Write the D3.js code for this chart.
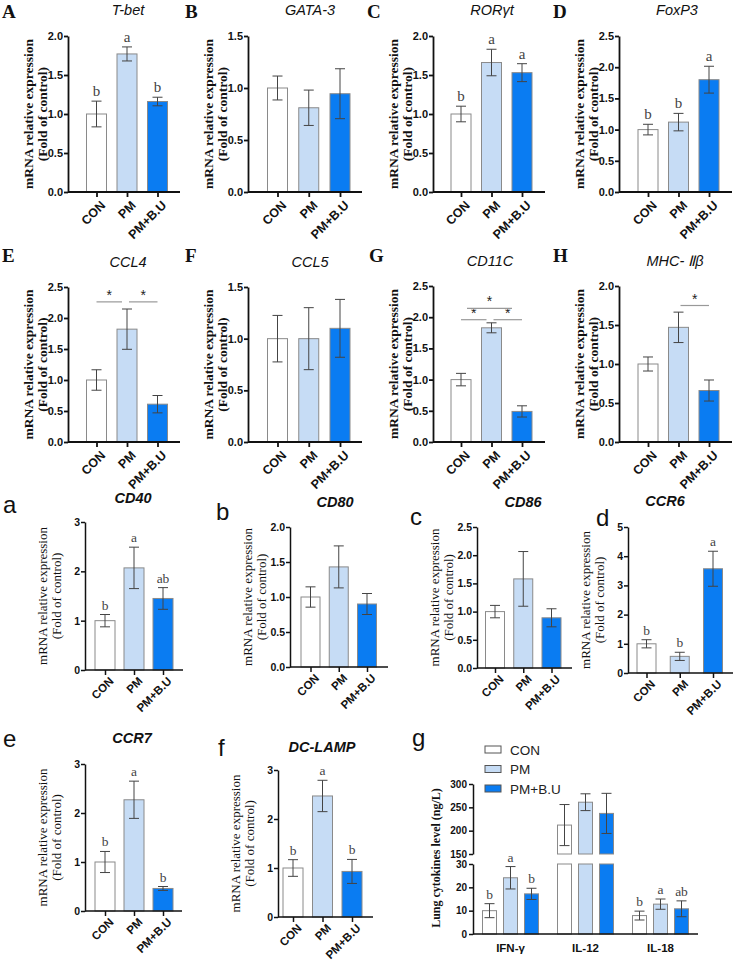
<!DOCTYPE html>
<html lang="en">
<head>
  <meta charset="UTF-8" />
  <title>mRNA expression panels</title>
  <script src="https://cdn.jsdelivr.net/npm/d3@7"></script>
  <style>
    body { margin: 0; background: #fff; }
    .sans { font-family: "Liberation Sans", Arial, sans-serif; }
    .serif { font-family: "Liberation Serif", "Times New Roman", serif; }
  </style>
</head>
<body>
<script>
  var groups = ["CON", "PM", "PM+B.U"];
  var fills = ["#ffffff", "#c6dcf5", "#0a7cf2"];

  // means, error (sem) and letters for each gene
  var tbet = [1.00, 1.77, 1.16], tbetErr = [0.165, 0.09, 0.055], tbetLet = ["b", "a", "b"];
  var gata3 = [1.00, 0.81, 0.945], gata3Err = [0.115, 0.17, 0.24];
  var rorgt = [1.00, 1.66, 1.53], rorgtErr = [0.10, 0.17, 0.115], rorgtLet = ["b", "a", "a"];
  var foxp3 = [1.00, 1.12, 1.80], foxp3Err = [0.085, 0.14, 0.215], foxp3Let = ["b", "b", "a"];
  var ccl4 = [1.00, 1.82, 0.61], ccl4Err = [0.165, 0.325, 0.14];
  var ccl5 = [1.00, 1.00, 1.10], ccl5Err = [0.225, 0.30, 0.28];
  var cd11c = [1.00, 1.83, 0.49], cd11cErr = [0.10, 0.08, 0.09];
  var mhc = [1.00, 1.47, 0.66], mhcErr = [0.09, 0.195, 0.135];
  var cd40 = [1.00, 2.07, 1.45], cd40Err = [0.125, 0.42, 0.22], cd40Let = ["b", "a", "ab"];
  var cd80 = [1.00, 1.43, 0.90], cd80Err = [0.145, 0.30, 0.15];
  var cd86 = [1.00, 1.58, 0.89], cd86Err = [0.11, 0.485, 0.16];
  var ccr6 = [1.00, 0.57, 3.57], ccr6Err = [0.14, 0.14, 0.60], ccr6Let = ["b", "b", "a"];
  var ccr7 = [1.00, 2.27, 0.46], ccr7Err = [0.215, 0.38, 0.04], ccr7Let = ["b", "a", "b"];
  var dclamp = [1.00, 2.47, 0.93], dclampErr = [0.17, 0.32, 0.245], dclampLet = ["b", "a", "b"];

  // significance brackets: [from group, to group, level]
  var ccl4Sig = [[0, 1, 2.26], [1, 2, 2.26]];
  var cd11cSig = [[0, 1, 1.96], [1, 2, 1.96], [0, 2, 2.14]];
  var mhcSig = [[1, 2, 1.75]];

  // cytokines (panel g)
  var cytokines = ["IFN-γ", "IL-12", "IL-18"];
  var conLevel = [10.0, 212, 7.9], conLevelErr = [3.0, 44, 1.9];
  var pmLevel = [24.1, 261, 12.8], pmLevelErr = [4.8, 18, 2.2];
  var pmbuLevel = [17.2, 237, 10.8], pmbuLevelErr = [2.4, 43, 3.4];
  var cytoLetters = [["b", "a", "b"], [], ["b", "a", "ab"]];

  var svg = d3.select("body").append("svg")
    .attr("width", 735)
    .attr("height", 962);

  function panel(c) {
    var big = c.big;
    var g = svg.append("g");
    var y = d3.scaleLinear().domain([0, c.max]).range([c.bottom, c.top]);
    var x = d3.scalePoint().domain(groups).range([c.ax + c.x0, c.ax + c.x1]);
    var bw = c.bw || 20;

    g.selectAll("rect").data(c.mean).enter().append("rect")
      .attr("x", function(d, i) { return x(groups[i]) - bw / 2; })
      .attr("y", function(d) { return y(d); })
      .attr("width", bw)
      .attr("height", function(d) { return y(0) - y(d); })
      .attr("fill", function(d, i) { return fills[i]; })
      .attr("stroke", "#8a8a8a")
      .attr("stroke-width", 1);

    // error bars
    var eb = g.append("g").attr("stroke", "#444").attr("stroke-width", 1);
    c.mean.forEach(function(m, i) {
      var cx = x(groups[i]), e = c.err[i];
      eb.append("line").attr("x1", cx).attr("x2", cx).attr("y1", y(m + e)).attr("y2", y(m - e));
      eb.append("line").attr("x1", cx - 5).attr("x2", cx + 5).attr("y1", y(m + e)).attr("y2", y(m + e));
      eb.append("line").attr("x1", cx - 5).attr("x2", cx + 5).attr("y1", y(m - e)).attr("y2", y(m - e));
    });

    if (c.letters) {
      g.selectAll(".let").data(c.letters).enter().append("text")
        .attr("class", "serif")
        .attr("x", function(d, i) { return x(groups[i]); })
        .attr("y", function(d, i) { return y(c.mean[i] + c.err[i]) - 5; })
        .attr("text-anchor", "middle")
        .attr("font-size", big ? "15px" : "13.5px")
        .attr("fill", "#444")
        .text(function(d) { return d; });
    }

    if (c.sig) {
      c.sig.forEach(function(s) {
        var xa = x(groups[s[0]]), xb = x(groups[s[1]]);
        if (s[0] == 0 && s[1] == 1) { xb -= 5; }
        if (s[0] == 1 && s[1] == 2) { xa += 2; }
        if (s[1] - s[0] == 2) { xa += 6; xb -= 10; }
        g.append("line").attr("x1", xa).attr("x2", xb)
          .attr("y1", y(s[2])).attr("y2", y(s[2]))
          .attr("stroke", "#999").attr("stroke-width", 1.2);
        g.append("text").attr("class", "sans")
          .attr("x", (xa + xb) / 2).attr("y", y(s[2]) - 2)
          .attr("text-anchor", "middle").attr("font-size", "14px")
          .attr("fill", "#222").text("*");
      });
    }

    // y axis
    var yAxis = d3.axisLeft(y)
      .tickValues(d3.range(0, c.max + 1e-9, c.step))
      .tickFormat(d3.format(c.fmt))
      .tickSize(4)
      .tickPadding(1)
      .tickSizeOuter(0);
    var ya = g.append("g").attr("transform", "translate(" + c.ax + ",0)").call(yAxis);
    ya.selectAll("path, line").attr("stroke", "#111").attr("stroke-width", big ? 1.8 : 1.5);
    ya.selectAll("text").attr("class", "sans")
      .attr("font-size", big ? "11px" : "10.5px").attr("font-weight", "bold").attr("fill", "#111");

    // x axis
    g.append("line").attr("x1", c.ax).attr("x2", c.ax + c.xEnd)
      .attr("y1", y(0)).attr("y2", y(0))
      .attr("stroke", "#111").attr("stroke-width", big ? 1.8 : 1.5);
    var xa = g.append("g").attr("transform", "translate(0," + y(0) + ")")
      .call(d3.axisBottom(x).tickSize(5).tickSizeOuter(0));
    xa.select(".domain").remove();
    xa.selectAll("line").attr("stroke", "#111").attr("stroke-width", big ? 1.8 : 1.5);
    xa.selectAll("text").attr("class", "sans")
      .attr("font-size", big ? "12.5px" : "11.5px").attr("font-weight", "bold").attr("fill", "#111")
      .attr("x", 0).attr("y", 0).attr("dy", "0.35em")
      .attr("text-anchor", "end")
      .attr("transform", big ? "translate(6,11) rotate(-45)" : "translate(6,9) rotate(-45)");

    // y label
    var lx = c.ax + (big ? -35 : -38), ly = (c.top + c.bottom) / 2;
    var lab = g.append("text").attr("class", "serif")
      .attr("transform", "translate(" + lx + "," + ly + ") rotate(-90)")
      .attr("text-anchor", "middle")
      .attr("font-size", big ? "13.5px" : "13px")
      .attr("font-weight", big ? "bold" : "normal")
      .attr("fill", "#111");
    lab.append("tspan").attr("x", 0).attr("dy", 0).text("mRNA relative expression");
    lab.append("tspan").attr("x", 0).attr("dy", 14).text("(Fold of control)");

    // title
    svg.append("text").attr("class", "sans")
      .attr("x", c.tx).attr("y", c.ty)
      .attr("text-anchor", "middle")
      .attr("font-size", "14.5px")
      .attr("font-style", "italic")
      .attr("font-weight", big ? "normal" : "bold")
      .attr("fill", "#111")
      .text(c.title);

    // panel letter
    svg.append("text").attr("class", big ? "serif" : "sans")
      .attr("x", c.lx).attr("y", c.ly)
      .attr("font-size", big ? "19px" : "24px")
      .attr("font-weight", big ? "bold" : "normal")
      .attr("fill", "#111")
      .text(c.id);
  }

  // row 1
  panel({ id: "A", title: "T-bet", mean: tbet, err: tbetErr, letters: tbetLet, big: true,
    ax: 68, top: 36, bottom: 192, max: 2.0, step: 0.5, fmt: ".1f", x0: 28.5, x1: 89.5, xEnd: 112,
    tx: 128, ty: 15, lx: 2, ly: 18 });
  panel({ id: "B", title: "GATA-3", mean: gata3, err: gata3Err, big: true,
    ax: 248, top: 36, bottom: 192, max: 1.5, step: 0.5, fmt: ".1f", x0: 29.5, x1: 92, xEnd: 114,
    tx: 310, ty: 15, lx: 185, ly: 18 });
  panel({ id: "C", title: "RORγt", mean: rorgt, err: rorgtErr, letters: rorgtLet, big: true,
    ax: 433, top: 36, bottom: 192, max: 2.0, step: 0.5, fmt: ".1f", x0: 28, x1: 89, xEnd: 112,
    tx: 492, ty: 15, lx: 367, ly: 18 });
  panel({ id: "D", title: "FoxP3", mean: foxp3, err: foxp3Err, letters: foxp3Let, big: true,
    ax: 619, top: 36, bottom: 192, max: 2.5, step: 0.5, fmt: ".1f", x0: 29, x1: 90, xEnd: 113,
    tx: 677, ty: 15, lx: 553, ly: 18 });

  // row 2
  panel({ id: "E", title: "CCL4", mean: ccl4, err: ccl4Err, sig: ccl4Sig, big: true,
    ax: 68, top: 287, bottom: 442, max: 2.5, step: 0.5, fmt: ".1f", x0: 28.5, x1: 89.5, xEnd: 112,
    tx: 128, ty: 267, lx: 2, ly: 262 });
  panel({ id: "F", title: "CCL5", mean: ccl5, err: ccl5Err, big: true,
    ax: 248, top: 287, bottom: 442, max: 1.5, step: 0.5, fmt: ".1f", x0: 29.5, x1: 92, xEnd: 114,
    tx: 310, ty: 267, lx: 185, ly: 262 });
  panel({ id: "G", title: "CD11C", mean: cd11c, err: cd11cErr, sig: cd11cSig, big: true,
    ax: 433, top: 286, bottom: 442, max: 2.5, step: 0.5, fmt: ".1f", x0: 28, x1: 89, xEnd: 112,
    tx: 490, ty: 266, lx: 369, ly: 262 });
  panel({ id: "H", title: "MHC- Ⅱβ", mean: mhc, err: mhcErr, sig: mhcSig, big: true,
    ax: 619, top: 286, bottom: 442, max: 2.0, step: 0.5, fmt: ".1f", x0: 29, x1: 90, xEnd: 113,
    tx: 675, ty: 266, lx: 553, ly: 262 });

  // row 3
  panel({ id: "a", title: "CD40", mean: cd40, err: cd40Err, letters: cd40Let,
    ax: 85, top: 522, bottom: 670, max: 3, step: 1, fmt: "d", x0: 20, x1: 78, xEnd: 98,
    tx: 133, ty: 503, lx: 3, ly: 513 });
  panel({ id: "b", title: "CD80", mean: cd80, err: cd80Err, bw: 19,
    ax: 290, top: 527, bottom: 667, max: 2.0, step: 0.5, fmt: ".1f", x0: 20.5, x1: 77, xEnd: 98,
    tx: 335, ty: 507, lx: 216, ly: 520 });
  panel({ id: "c", title: "CD86", mean: cd86, err: cd86Err, bw: 19,
    ax: 477, top: 527, bottom: 668, max: 2.5, step: 0.5, fmt: ".1f", x0: 18, x1: 74.5, xEnd: 95,
    tx: 523, ty: 507, lx: 410, ly: 525 });
  panel({ id: "d", title: "CCR6", mean: ccr6, err: ccr6Err, letters: ccr6Let, bw: 19,
    ax: 628, top: 527, bottom: 673, max: 5, step: 1, fmt: "d", x0: 18.5, x1: 85, xEnd: 105,
    tx: 665, ty: 506, lx: 596, ly: 526 });

  // row 4
  panel({ id: "e", title: "CCR7", mean: ccr7, err: ccr7Err, letters: ccr7Let,
    ax: 85, top: 764, bottom: 911, max: 3, step: 1, fmt: "d", x0: 20, x1: 78, xEnd: 97,
    tx: 132, ty: 743, lx: 3, ly: 747 });
  panel({ id: "f", title: "DC-LAMP", mean: dclamp, err: dclampErr, letters: dclampLet,
    ax: 278, top: 770, bottom: 917, max: 3, step: 1, fmt: "d", x0: 15, x1: 74, xEnd: 95,
    tx: 322, ty: 752, lx: 218, ly: 756 });

  // panel g: broken axis cytokines
  (function() {
    var ax = 473, xEnd = 698;
    var yLow = d3.scaleLinear().domain([0, 30]).range([934, 864]);
    var yHigh = d3.scaleLinear().domain([150, 300]).range([854, 784]);
    var x0 = d3.scaleBand().domain(cytokines).range([ax, xEnd]);
    var x1 = d3.scalePoint().domain(groups).range([-21, 21]);
    var levels = [conLevel, pmLevel, pmbuLevel];
    var errs = [conLevelErr, pmLevelErr, pmbuLevelErr];
    var g = svg.append("g");
    var bw = 14;
    function yv(v) { return v <= 30 ? yLow(v) : yHigh(v); }

    cytokines.forEach(function(ck, ci) {
      groups.forEach(function(gr, gi) {
        var v = levels[gi][ci], e = errs[gi][ci];
        var cx = x0(ck) + x0.bandwidth() / 2 + x1(gr);
        if (v <= 30) {
          g.append("rect").attr("x", cx - bw / 2).attr("y", yLow(v))
            .attr("width", bw).attr("height", yLow(0) - yLow(v))
            .attr("fill", fills[gi]).attr("stroke", "#8a8a8a");
        } else {
          g.append("rect").attr("x", cx - bw / 2).attr("y", yLow(30))
            .attr("width", bw).attr("height", yLow(0) - yLow(30))
            .attr("fill", fills[gi]).attr("stroke", "#8a8a8a");
          g.append("rect").attr("x", cx - bw / 2).attr("y", yHigh(v))
            .attr("width", bw).attr("height", yHigh(150) - yHigh(v))
            .attr("fill", fills[gi]).attr("stroke", "#8a8a8a");
        }
        var eb = g.append("g").attr("stroke", "#444");
        eb.append("line").attr("x1", cx).attr("x2", cx).attr("y1", yv(v + e)).attr("y2", yv(v - e));
        eb.append("line").attr("x1", cx - 5).attr("x2", cx + 5).attr("y1", yv(v + e)).attr("y2", yv(v + e));
        eb.append("line").attr("x1", cx - 5).attr("x2", cx + 5).attr("y1", yv(v - e)).attr("y2", yv(v - e));
        var lt = cytoLetters[ci][gi];
        if (lt) {
          g.append("text").attr("class", "serif")
            .attr("x", cx).attr("y", yv(v + e) - 5)
            .attr("text-anchor", "middle").attr("font-size", "13.5px").attr("fill", "#444")
            .text(lt);
        }
      });
    });

    [[yLow, [0, 10, 20, 30], 1], [yHigh, [150, 200, 250, 300], -1]].forEach(function(p) {
      var a = g.append("g").attr("transform", "translate(" + ax + ",0)")
        .call(d3.axisLeft(p[0]).tickValues(p[1]).tickSize(4).tickPadding(2).tickSizeOuter(0));
      a.selectAll("path, line").attr("stroke", "#111").attr("stroke-width", 1.5);
      a.selectAll("text").attr("class", "sans").attr("font-size", "10px")
        .attr("font-weight", "bold").attr("fill", "#111");
    });
    g.append("line").attr("x1", ax).attr("x2", xEnd).attr("y1", yLow(0)).attr("y2", yLow(0))
      .attr("stroke", "#111").attr("stroke-width", 1.5);
    g.selectAll(".ck").data(cytokines).enter().append("text")
      .attr("class", "sans")
      .attr("x", function(d) { return x0(d) + x0.bandwidth() / 2; })
      .attr("y", 952)
      .attr("text-anchor", "middle").attr("font-size", "11.5px").attr("font-weight", "bold")
      .attr("fill", "#111")
      .text(function(d) { return d; });

    g.append("text").attr("class", "serif")
      .attr("transform", "translate(440,858) rotate(-90)")
      .attr("text-anchor", "middle").attr("font-size", "12px").attr("font-weight", "bold")
      .attr("fill", "#111")
      .text("Lung cytokines level (ng/L)");

    // legend
    var leg = g.append("g");
    groups.forEach(function(gr, i) {
      leg.append("rect").attr("x", 485).attr("y", 746 + i * 19.5)
        .attr("width", 16).attr("height", 7)
        .attr("fill", fills[i]).attr("stroke", "#555");
      leg.append("text").attr("class", "sans")
        .attr("x", 510).attr("y", 750 + i * 19.5).attr("dy", "0.35em")
        .attr("font-size", "13.5px").attr("fill", "#222").text(gr);
    });

    svg.append("text").attr("class", "sans")
      .attr("x", 412).attr("y", 746).attr("font-size", "24px").attr("fill", "#111").text("g");
  })();
</script>
</body>
</html>
